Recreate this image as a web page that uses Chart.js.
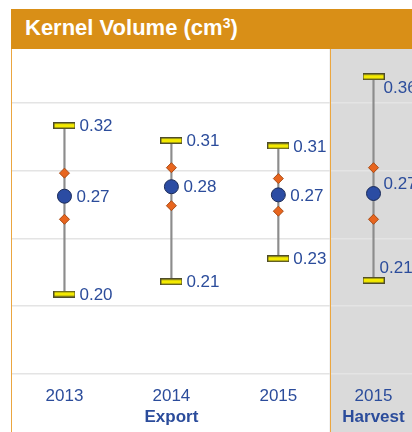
<!DOCTYPE html>
<html>
<head>
<meta charset="utf-8">
<script src="https://cdn.jsdelivr.net/npm/chart.js@4"></script>
<style>
  html, body { margin: 0; padding: 0; background: #fff; overflow: hidden; }
  #wrap { position: relative; width: 412px; height: 432px; }
  #chart { position: absolute; left: 0; top: 0; }
  #header {
    position: absolute; left: 11px; top: 9px; width: 401px; height: 40px;
    background: #d98f17; color: #fff;
    font: bold 22px "Liberation Sans", Arial, sans-serif;
    line-height: 38px; padding-left: 14px; box-sizing: border-box; z-index: 2;
  }
  #header span { font-size: 14px; position: relative; top: -7px; }
</style>
</head>
<body>
<div id="wrap">
  <div id="header">Kernel Volume (cm<span>3</span>)</div>
  <canvas id="chart" width="412" height="432"></canvas>
</div>
<script>
// --- Data ---
const years = ['2013', '2014', '2015', '2015'];
const groupNames = ['', 'Export', '', 'Harvest'];
const xIndex = [0, 1, 2, 2.89];          // harvest column sits a bit closer
const maxVals = [0.324, 0.313, 0.309, 0.360];
const upperVals = [0.289, 0.293, 0.285, 0.293];
const meanVals = [0.272, 0.279, 0.273, 0.274];
const lowerVals = [0.255, 0.265, 0.261, 0.255];
const minVals = [0.200, 0.209, 0.226, 0.210];
const gridValues = [0.141, 0.191, 0.241, 0.291, 0.341];
const harvestFrom = 2.48;                 // start of the grey harvest panel

const blue = '#2b4c9b';
const font = '"Liberation Sans", Arial, sans-serif';

// yellow cap marker
const cap = document.createElement('canvas');
cap.width = 22; cap.height = 7;
const cctx = cap.getContext('2d');
cctx.fillStyle = '#4f4d2a';
cctx.fillRect(0, 0, 22, 7);
cctx.fillStyle = '#f4ea00';
cctx.fillRect(1, 1.5, 20, 4);

const pts = vals => vals.map((v, i) => ({ x: xIndex[i], y: v }));

// --- Background panel + frame lines ---
const panelPlugin = {
  id: 'panel',
  beforeDraw(chart) {
    const { ctx, chartArea, scales: { x } } = chart;
    const px = x.getPixelForValue(harvestFrom);
    ctx.save();
    ctx.fillStyle = '#dadada';
    ctx.fillRect(px, chartArea.top, chart.width - px, chart.height - chartArea.top);
    ctx.restore();
  },
  beforeDatasetsDraw(chart) {
    const { ctx, chartArea, scales: { x } } = chart;
    const px = Math.round(x.getPixelForValue(harvestFrom)) + 0.5;
    ctx.save();
    ctx.strokeStyle = '#eba640';
    ctx.lineWidth = 1;
    ctx.beginPath();
    ctx.moveTo(px, chartArea.top); ctx.lineTo(px, chart.height);
    ctx.moveTo(chartArea.left + 0.5, chartArea.top); ctx.lineTo(chartArea.left + 0.5, chart.height);
    ctx.stroke();
    ctx.restore();
  }
};

// --- Value labels and category labels ---
const labelPlugin = {
  id: 'labels',
  afterDatasetsDraw(chart) {
    const { ctx, scales: { x, y }, chartArea } = chart;
    ctx.save();
    ctx.fillStyle = blue;
    ctx.textBaseline = 'middle';
    ctx.textAlign = 'left';
    ctx.font = '17px ' + font;
    xIndex.forEach((xi, i) => {
      const cx = x.getPixelForValue(xi);
      const yTop = y.getPixelForValue(maxVals[i]);
      const yMean = y.getPixelForValue(meanVals[i]);
      const yLow = y.getPixelForValue(minVals[i]);
      if (groupNames[i] === 'Harvest') {
        // near the edge: labels tucked under / over the caps
        ctx.fillText(maxVals[i].toFixed(2), cx + 10, yTop + 12);
        ctx.fillText(meanVals[i].toFixed(2), cx + 10, yMean - 9);
        ctx.fillText(minVals[i].toFixed(2), cx + 6, yLow - 12);
      } else {
        ctx.fillText(maxVals[i].toFixed(2), cx + 15, yTop + 1);
        ctx.fillText(meanVals[i].toFixed(2), cx + 12, yMean + 1);
        ctx.fillText(minVals[i].toFixed(2), cx + 15, yLow + 1);
      }
    });
    // category labels
    ctx.textAlign = 'center';
    xIndex.forEach((xi, i) => {
      const cx = x.getPixelForValue(xi);
      ctx.font = '17px ' + font;
      ctx.fillText(years[i], cx, chartArea.bottom + 22);
      if (groupNames[i]) {
        ctx.font = 'bold 17px ' + font;
        ctx.fillText(groupNames[i], cx, chartArea.bottom + 43);
      }
    });
    ctx.restore();
  }
};

new Chart(document.getElementById('chart'), {
  type: 'scatter',
  data: {
    datasets: [
      {
        type: 'bar',
        data: xIndex.map((xi, i) => ({ x: xi, y: [minVals[i], maxVals[i]] })),
        backgroundColor: '#8c8c8c',
        barThickness: 1.5,
        order: 4
      },
      {
        data: pts(maxVals).concat(pts(minVals)),
        pointStyle: cap,
        order: 3
      },
      {
        data: pts(upperVals).concat(pts(lowerVals)),
        pointStyle: 'rectRot',
        pointRadius: 5,
        backgroundColor: '#e8651e',
        borderColor: '#a84a14',
        borderWidth: 1,
        order: 2
      },
      {
        data: pts(meanVals),
        pointStyle: 'circle',
        pointRadius: 7,
        backgroundColor: '#2b4ca3',
        borderColor: '#1b2b58',
        borderWidth: 1,
        order: 1
      }
    ]
  },
  options: {
    responsive: false,
    animation: false,
    devicePixelRatio: 1,
    layout: { autoPadding: false, padding: { left: 11, right: 0, top: 49, bottom: 58 } },
    plugins: { legend: { display: false }, tooltip: { enabled: false } },
    scales: {
      x: { type: 'linear', min: -0.5, max: 3.25, offset: false, display: false },
      y: {
        type: 'linear', min: 0.1411, max: 0.3804,
        ticks: { display: false },
        border: { display: false },
        grid: { color: '#e4e4e4', lineWidth: 1.5, drawTicks: false },
        afterBuildTicks: s => { s.ticks = gridValues.map(v => ({ value: v })); }
      }
    }
  },
  plugins: [panelPlugin, labelPlugin]
});
</script>
</body>
</html>
